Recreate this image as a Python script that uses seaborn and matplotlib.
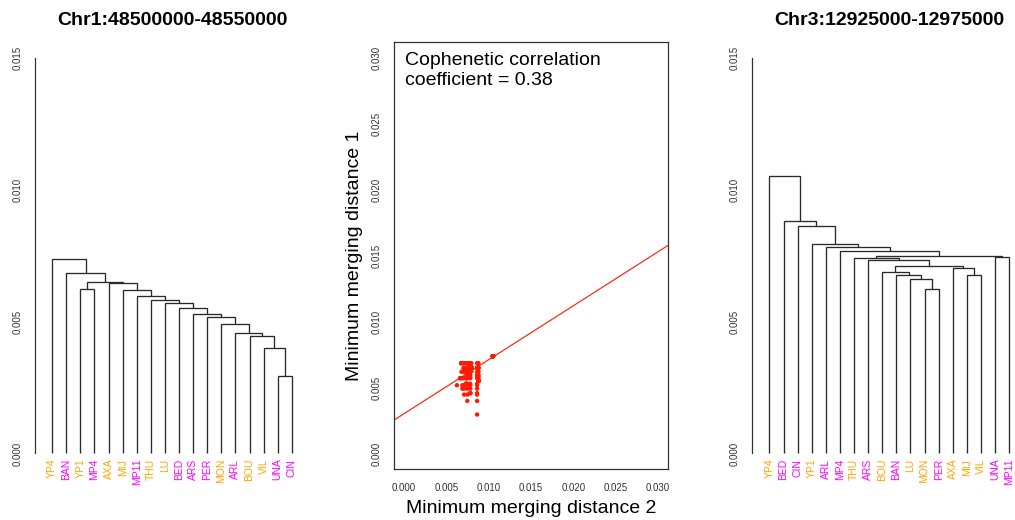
import numpy as np
import pandas as pd
import matplotlib
matplotlib.use("Agg")
import matplotlib.pyplot as plt
import seaborn as sns

# ---------------- data ----------------
title_left = "Chr1:48500000-48550000"
title_right = "Chr3:12925000-12975000"

left_leaves = ["YP4", "BAN", "YP1", "MP4", "AXA", "MIJ", "MP11", "THU", "LU",
               "BED", "ARS", "PER", "MON", "ARL", "BOU", "VIL", "UNA", "CIN"]
# merges: (child a, child b, height); strings = leaves, ints = earlier merge index
left_merges = [
    ("UNA", "CIN", 0.00295),
    ("VIL", 0, 0.00398),
    ("BOU", 1, 0.00446),
    ("ARL", 2, 0.00457),
    ("MON", 3, 0.00491),
    ("PER", 4, 0.00517),
    ("ARS", 5, 0.00528),
    ("BED", 6, 0.00550),
    ("LU", 7, 0.00570),
    ("THU", 8, 0.00582),
    ("MP11", 9, 0.00596),
    ("MIJ", 10, 0.00619),
    ("YP1", "MP4", 0.00623),
    ("AXA", 11, 0.00646),
    (12, 13, 0.00651),
    ("BAN", 14, 0.00684),
    ("YP4", 15, 0.00737),
]

right_leaves = ["YP4", "BED", "CIN", "YP1", "ARL", "MP4", "THU", "ARS", "BOU",
                "BAN", "LU", "MON", "PER", "AXA", "MIJ", "VIL", "UNA", "MP11"]
right_merges = [
    ("MON", "PER", 0.00623),
    ("LU", 0, 0.00661),
    ("BAN", 1, 0.00675),
    ("MIJ", "VIL", 0.00678),
    ("BOU", 2, 0.00688),
    ("AXA", 3, 0.00704),
    (4, 5, 0.00709),
    ("ARS", 6, 0.00733),
    ("THU", 7, 0.00739),
    ("UNA", "MP11", 0.00743),
    (8, 9, 0.00747),
    ("MP4", 10, 0.00767),
    ("ARL", 11, 0.00782),
    ("YP1", 12, 0.00795),
    ("CIN", 13, 0.00863),
    ("BED", 14, 0.00879),
    ("YP4", 15, 0.01050),
]

group_orange = ["YP4", "YP1", "AXA", "MIJ", "THU", "LU", "MON", "BOU", "VIL"]
group_magenta = ["BAN", "MP4", "MP11", "BED", "ARS", "PER", "ARL", "UNA", "CIN"]
color_orange = "#FFA500"
color_magenta = "#FF00FF"

# fitted line as drawn in the chart (intercept, slope)
fit_intercept = 0.00302
fit_slope = 0.4085

dend_ticks = [0.000, 0.005, 0.010, 0.015]
scatter_ticks = [0.000, 0.005, 0.010, 0.015, 0.020, 0.025, 0.030]
annotation = "Cophenetic correlation\ncoefficient = 0.38"
xlabel_mid = "Minimum merging distance 2"
ylabel_mid = "Minimum merging distance 1"

# ---------------- helpers ----------------
def leaf_color(name):
    return color_orange if name in group_orange else color_magenta


def members(node, merges):
    if isinstance(node, str):
        return [node]
    a, b, _ = merges[node]
    return members(a, merges) + members(b, merges)


def cophenetic(leaves, merges):
    d = {}
    for a, b, h in merges:
        for p in members(a, merges):
            for q in members(b, merges):
                d[frozenset((p, q))] = h
    return d


def draw_dendrogram(ax, leaves, merges):
    pos = {name: i + 1 for i, name in enumerate(leaves)}
    xs, hs = {}, {}

    def coord(node):
        if isinstance(node, str):
            return pos[node], 0.0
        return xs[node], hs[node]

    for k, (a, b, h) in enumerate(merges):
        xa, ha = coord(a)
        xb, hb = coord(b)
        ax.plot([xa, xa, xb, xb], [ha, h, h, hb], color="#2a2a2a", lw=0.95,
                solid_joinstyle="miter", solid_capstyle="butt")
        xs[k] = (xa + xb) / 2.0
        hs[k] = h
    for name, x in pos.items():
        ax.text(x, -0.0002, name, rotation=90, ha="center", va="top",
                fontsize=7.5, color=leaf_color(name), clip_on=False)
    n = len(leaves)
    ax.set_xlim(0.5 - 0.04 * n, n + 0.5 + 0.04 * n)
    ax.set_ylim(-0.0006, 0.0156)
    ax.set_xticks([])
    ax.set_yticks(dend_ticks)
    ax.set_yticklabels([f"{t:.3f}" for t in dend_ticks], rotation=90,
                       va="center", fontsize=7)
    for s in ["top", "right", "bottom"]:
        ax.spines[s].set_visible(False)
    ax.spines["left"].set_bounds(dend_ticks[0], dend_ticks[-1])
    ax.spines["left"].set_color("#333333")
    ax.spines["left"].set_linewidth(0.9)
    ax.tick_params(axis="y", direction="out", length=5, width=0.9,
                   color="#333333", pad=4, labelcolor="#333333")


# ---------------- figure ----------------
sns.set_theme(style="white")
plt.rcParams["font.family"] = ["Liberation Sans", "DejaVu Sans"]

fig = plt.figure(figsize=(10.15, 5.2), dpi=100)
W, H = 1015.0, 520.0
bottom = (H - 469.3) / H
height = 427.6 / H
width = 274.0 / W
ax1 = fig.add_axes([35.0 / W, bottom, width, height])
ax2 = fig.add_axes([394.0 / W, bottom, width, height])
ax3 = fig.add_axes([752.3 / W, bottom, width, height])

draw_dendrogram(ax1, left_leaves, left_merges)
draw_dendrogram(ax3, right_leaves, right_merges)
ax1.set_title(title_left, fontsize=14, fontweight="bold", pad=12, color="black")
ax3.set_title(title_right, fontsize=14, fontweight="bold", pad=12, color="black")

# cophenetic distance pairs
c1 = cophenetic(left_leaves, left_merges)
c2 = cophenetic(right_leaves, right_merges)
keys = sorted(c1.keys(), key=lambda k: tuple(sorted(k)))
df = pd.DataFrame({"d2": [c2[k] for k in keys], "d1": [c1[k] for k in keys]})

lim = (-0.0012, 0.0312)
ax2.set_xlim(lim)
ax2.set_ylim(lim)
ax2.axline((0.0, fit_intercept), slope=fit_slope, color="#FF2A1A", lw=0.9)
sns.scatterplot(data=df, x="d2", y="d1", ax=ax2, color="#FF1A00", s=10,
                linewidth=0, edgecolor="none", zorder=3)
ax2.set_xlim(lim)
ax2.set_ylim(lim)
ax2.set_xticks(scatter_ticks)
ax2.set_xticklabels([f"{t:.3f}" for t in scatter_ticks], fontsize=7)
ax2.set_yticks(scatter_ticks)
ax2.set_yticklabels([f"{t:.3f}" for t in scatter_ticks], fontsize=7,
                    rotation=90, va="center")
ax2.tick_params(axis="both", direction="out", length=5, width=0.9,
                color="#333333", labelcolor="#333333")
ax2.tick_params(axis="x", pad=5)
ax2.tick_params(axis="y", pad=4)
for s in ax2.spines.values():
    s.set_visible(True)
    s.set_color("#333333")
    s.set_linewidth(0.9)
ax2.set_xlabel(xlabel_mid, fontsize=14, labelpad=5, color="black")
ax2.set_ylabel(ylabel_mid, fontsize=14, labelpad=6, color="black")
ax2.text(0.04, 0.975, annotation, transform=ax2.transAxes, ha="left",
         va="top", fontsize=14, linespacing=1.2, color="black")

fig.savefig("out.png", dpi=100)
